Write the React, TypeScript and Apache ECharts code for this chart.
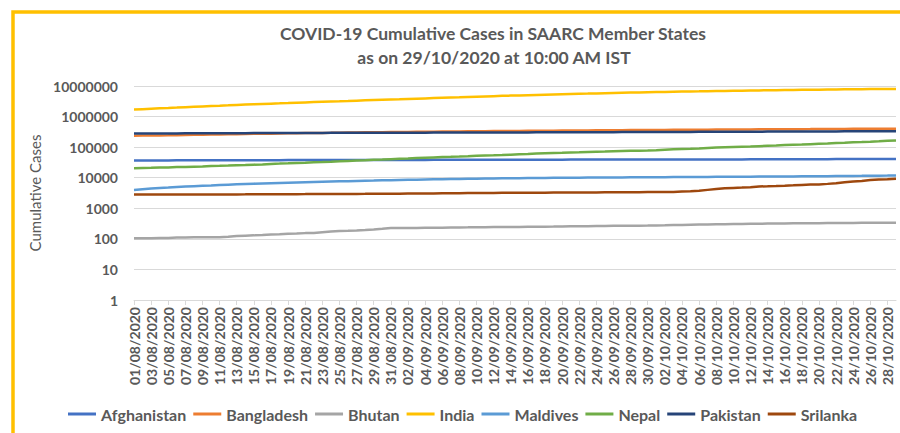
import React, { useEffect, useRef } from "react";
import * as echarts from "echarts";

// Categories: daily dates 01/08/2020 .. 29/10/2020
const months: [string, number][] = [["08", 31], ["09", 30], ["10", 29]];
const dates: string[] = [];
for (const [m, n] of months) {
  for (let d = 1; d <= n; d++) dates.push(`${String(d).padStart(2, "0")}/${m}/2020`);
}

const seriesNames = ["Afghanistan", "Bangladesh", "Bhutan", "India", "Maldives", "Nepal", "Pakistan", "Srilanka"];
const colors = ["#4472C4", "#ED7D31", "#A5A5A5", "#FFC000", "#5B9BD5", "#70AD47", "#264478", "#9E480E"];

const afghanistan = [
  36710, 36747, 36782, 36829, 36896, 36937, 37015, 37054, 37054, 37162, 37269, 37345, 37424, 37431, 37551, 37596, 37599, 37599, 37759, 37819, 37856, 37894, 37953, 38070, 38070, 38128, 38141, 38143, 38162, 38165, 38196,
  38243, 38288, 38304, 38324, 38398, 38494, 38520, 38544, 38572, 38606, 38641, 38716, 38772, 38815, 38855, 38872, 38883, 38919, 38919, 39044, 39074, 39096, 39145, 39170, 39186, 39192, 39227, 39233, 39254, 39268,
  39285, 39290, 39297, 39341, 39422, 39486, 39548, 39616, 39693, 39703, 39799, 39870, 39928, 39994, 40026, 40073, 40141, 40200, 40287, 40357, 40510, 40626, 40687, 40768, 40833, 40937, 41032, 41145, 41268,
];
const bangladesh = [
  237661, 239860, 240746, 242102, 244020, 246674, 249651, 252502, 255113, 257600, 260507, 263503, 266498, 269115, 271881, 274525, 276549, 279144, 282344, 285091, 287959, 290360, 292625, 294598, 297083, 299628, 302147, 304583, 306794, 308925, 310822,
  312996, 314946, 317528, 319686, 321615, 323565, 325157, 327359, 329251, 331078, 332970, 334762, 336044, 337520, 339332, 341056, 342671, 344264, 345805, 347372, 348916, 350621, 352178, 353844, 355384, 357873, 359148, 360555, 362043, 363479,
  364987, 366383, 367565, 368690, 370132, 371631, 373151, 374592, 375870, 377073, 378266, 379738, 381275, 382959, 384559, 385725, 386086, 387295, 388569, 390206, 391586, 392923, 394827, 396413, 397507, 398815, 400251, 401586, 403079,
];
const bhutan = [
  105, 105, 105, 106, 107, 110, 110, 113, 113, 113, 113, 117, 124, 127, 130, 134, 139, 141, 148, 150, 154, 155, 165, 174, 181, 184, 188, 194, 202, 214, 227,
  227, 227, 228, 229, 230, 233, 235, 237, 238, 240, 241, 243, 244, 245, 246, 248, 250, 251, 252, 255, 257, 258, 260, 263, 265, 267, 268, 269, 270, 272,
  275, 278, 282, 285, 289, 293, 297, 300, 302, 305, 308, 310, 312, 315, 318, 320, 322, 324, 325, 326, 328, 330, 331, 332, 334, 335, 336, 338, 339,
];
const india = [
  1696000, 1751000, 1804000, 1856000, 1908000, 1965000, 2027000, 2089000, 2153000, 2215000, 2269000, 2330000, 2397000, 2461000, 2526000, 2590000, 2648000, 2703000, 2767000, 2837000, 2906000, 2976000, 3045000, 3106000, 3167000, 3234000, 3310000, 3388000, 3464000, 3543000, 3621000,
  3691000, 3770000, 3853000, 3937000, 4023000, 4114000, 4205000, 4280000, 4370000, 4466000, 4562000, 4660000, 4754000, 4846000, 4930000, 5020000, 5118000, 5215000, 5308000, 5401000, 5488000, 5563000, 5646000, 5733000, 5819000, 5904000, 5993000, 6075000, 6145000, 6226000,
  6313000, 6394000, 6474000, 6549000, 6624000, 6685000, 6757000, 6836000, 6906000, 6979000, 7054000, 7121000, 7176000, 7239000, 7307000, 7370000, 7433000, 7495000, 7550000, 7597000, 7651000, 7707000, 7761000, 7815000, 7865000, 7910000, 7946000, 7990000, 8040000,
];
const maldives = [
  3953, 4190, 4420, 4590, 4760, 4950, 5140, 5300, 5460, 5600, 5760, 5910, 6060, 6210, 6370, 6520, 6640, 6760, 6880, 6990, 7110, 7240, 7370, 7500, 7620, 7730, 7850, 7970, 8080, 8200, 8310,
  8420, 8530, 8650, 8760, 8870, 8960, 9050, 9130, 9220, 9300, 9380, 9450, 9520, 9590, 9660, 9720, 9780, 9840, 9890, 9940, 9990, 10040, 10090, 10130, 10170, 10210, 10250, 10290, 10330, 10370,
  10410, 10450, 10490, 10530, 10570, 10610, 10650, 10690, 10730, 10770, 10810, 10850, 10890, 10930, 10970, 11010, 11060, 11110, 11160, 11210, 11260, 11320, 11380, 11440, 11500, 11570, 11640, 11710, 11790,
];
const nepal = [
  20332, 20750, 21009, 21390, 21750, 22214, 22592, 22972, 23310, 23947, 24432, 24956, 25551, 26019, 26660, 27241, 28257, 28938, 29645, 30483, 31116, 31935, 32678, 33533, 34417, 35529, 36456, 37340, 38561, 39460, 40529,
  41649, 42876, 44235, 45276, 46256, 47236, 48138, 49218, 50465, 51919, 53120, 54158, 55329, 56788, 58327, 59573, 61592, 62797, 64122, 65276, 66631, 67803, 69300, 70613, 71821, 73394, 74745, 75784, 76685, 77817,
  79728, 82912, 85363, 86823, 88241, 90814, 94253, 96888, 98617, 100358, 102257, 104168, 107755, 111258, 113679, 116623, 119720, 121362, 125243, 128731, 132246, 136036, 139129, 144872, 147312, 151482, 156567, 162114, 166445,
];
const pakistan = [
  279000, 279700, 280000, 280500, 281100, 281900, 282600, 283500, 284100, 284700, 285200, 285900, 286700, 287300, 288000, 288700, 289200, 289800, 290400, 291000, 291700, 292200, 292700, 293300, 293900, 294200, 294600, 295000, 295400, 295600, 296100,
  296600, 297000, 297500, 298000, 298500, 298900, 299200, 299700, 300000, 300400, 300900, 301400, 301900, 302400, 302900, 303600, 304400, 304900, 305600, 306000, 306300, 306900, 307400, 308200, 308900, 309600, 310300, 311100, 311800, 312300,
  313000, 313400, 314000, 314600, 315300, 315900, 316500, 317400, 318000, 318900, 319600, 320200, 320800, 321900, 322500, 323000, 323500, 324100, 324700, 325500, 326200, 327100, 328000, 328900, 329400, 330200, 331000, 331900, 332900,
];
const srilanka = [
  2815, 2815, 2817, 2824, 2828, 2834, 2839, 2839, 2839, 2841, 2844, 2844, 2851, 2853, 2870, 2874, 2882, 2886, 2894, 2902, 2909, 2923, 2935, 2947, 2952, 2956, 2959, 2965, 2979, 2982, 2996,
  3012, 3020, 3032, 3041, 3049, 3086, 3111, 3121, 3147, 3156, 3162, 3172, 3195, 3204, 3221, 3227, 3235, 3250, 3262, 3271, 3280, 3287, 3300, 3313, 3324, 3333, 3341, 3354, 3370, 3380,
  3390, 3395, 3402, 3513, 3626, 3750, 4001, 4252, 4488, 4628, 4752, 4906, 5170, 5244, 5354, 5475, 5625, 5811, 5978, 6035, 6287, 6613, 7153, 7521, 7872, 8413, 8700, 8870, 9205,
];

const seriesData = [afghanistan, bangladesh, bhutan, india, maldives, nepal, pakistan, srilanka];

const titleLines = ["COVID-19 Cumulative Cases in SAARC Member States", "as on 29/10/2020 at 10:00 AM IST"];
const yAxisName = "Cumulative Cases";

const FONT = "Lato, 'Open Sans', sans-serif";
const GRAY = "#595959";

export default function App() {
  const ref = useRef<HTMLDivElement>(null);
  useEffect(() => {
    if (!ref.current) return;
    const chart = echarts.init(ref.current, undefined, { renderer: "svg" });
    chart.setOption({
      animation: false,
      backgroundColor: "#ffffff",
      textStyle: { fontFamily: FONT },
      graphic: [
        {
          type: "rect",
          shape: { x: 13, y: 12, width: 1000, height: 1000 },
          style: { fill: "none", stroke: "#FFC000", lineWidth: 3.5 },
          silent: true,
        },
        {
          type: "text",
          x: 493,
          y: 33,
          style: { text: titleLines[0], fill: GRAY, font: `bold 17.5px ${FONT}`, textAlign: "center", textVerticalAlign: "middle" },
        },
        {
          type: "text",
          x: 494,
          y: 57,
          style: { text: titleLines[1], fill: GRAY, font: `bold 17.5px ${FONT}`, textAlign: "center", textVerticalAlign: "middle" },
        },
      ],
      legend: {
        data: seriesNames,
        left: 63,
        top: 401,
        icon: "rect",
        itemWidth: 28,
        itemHeight: 3,
        itemGap: 7,
        textStyle: { color: GRAY, fontSize: 16, fontWeight: "bold", fontFamily: FONT },
      },
      grid: { left: 134, right: 4, top: 86, bottom: 133, containLabel: false },
      xAxis: {
        type: "category",
        data: dates,
        boundaryGap: false,
        axisLine: { lineStyle: { color: "#D9D9D9", width: 1 } },
        axisTick: { show: true, length: 5, lineStyle: { color: "#D9D9D9" } },
        axisLabel: { interval: 1, rotate: 90, color: GRAY, fontSize: 14, fontWeight: "bold", fontFamily: FONT, margin: 7 },
        splitLine: { show: false },
      },
      yAxis: {
        type: "log",
        logBase: 10,
        min: 1,
        max: 10000000,
        name: yAxisName,
        nameLocation: "middle",
        nameRotate: 90,
        nameGap: 81,
        nameTextStyle: { color: GRAY, fontSize: 15, fontFamily: FONT },
        axisLine: { show: false },
        axisTick: { show: false },
        axisLabel: { color: GRAY, fontSize: 14, fontWeight: "bold", fontFamily: FONT, margin: 16, formatter: (v: number) => String(Math.round(v)) },
        splitLine: { lineStyle: { color: "#D9D9D9", width: 1 } },
      },
      series: seriesNames.map((name, i) => ({
        name,
        type: "line",
        data: seriesData[i],
        showSymbol: false,
        symbol: "none",
        lineStyle: { color: colors[i], width: 2.5 },
        itemStyle: { color: colors[i] },
      })),
    });
    return () => chart.dispose();
  }, []);
  return <div ref={ref} style={{ position: "fixed", left: 0, top: 0, width: 900, height: 433 }} />;
}
